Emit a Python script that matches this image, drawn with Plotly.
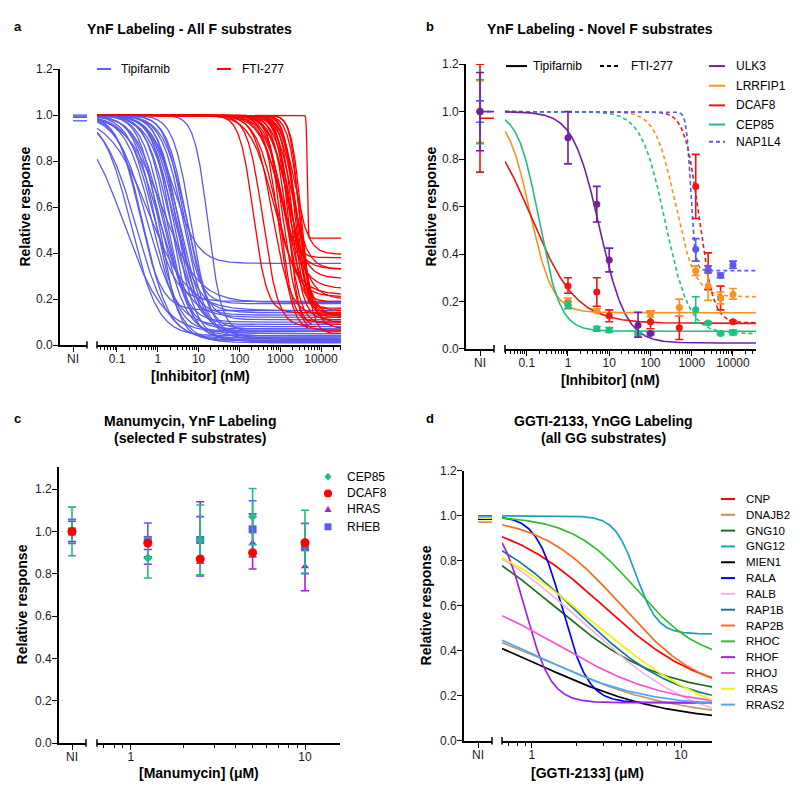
import numpy as np
import plotly.graph_objects as go

# the page body adds an 8 px margin: the figure is sized so that it ends at the window edge
OFF = 8
W, H = 800, 801
FW, FH = W - OFF, H - OFF
FONT = "Arial, 'Liberation Sans', Helvetica, sans-serif"

# ---------------- Panel a: fitted 4PL curves (bottom, IC50 nM, Hill; top = 1) ----------------
a_tip_ic50 = [0.15, 0.22, 0.3, 0.35, 0.45, 0.55, 0.7, 0.8, 0.9, 1.0, 1.1, 1.2, 1.4, 1.5, 1.7, 1.9,
              2.5, 2.2, 2.4, 2.6, 2.8, 3.0, 3.3, 3.6, 4.0, 4.4, 5.0, 5.5, 6.5, 0.6, 1.3, 17.0]
a_tip_hill = [0.9, 1.3, 1.1, 1.6, 1.4, 1.2, 1.5, 1.3, 1.6, 1.2, 1.8, 1.4, 1.6, 1.3, 1.7, 1.5,
              1.5, 1.8, 1.4, 1.6, 1.9, 1.5, 1.7, 1.4, 2.0, 1.6, 1.8, 1.5, 2.0, 0.9, 1.0, 2.6]
a_tip_bottom = [0.05, 0.04, 0.02, 0.15, 0.03, 0.08, 0.19, 0.01, 0.06, 0.12, 0.02, 0.04, 0.10, 0.015,
                0.07, 0.13, 0.355, 0.03, 0.14, 0.02, 0.09, 0.05, 0.06, 0.025, 0.18, 0.04, 0.11, 0.03,
                0.07, 0.15, 0.185, 0.06]
a_fti_ic50 = [220, 380, 650, 800, 900, 950, 1000, 1100, 1200, 1250, 1300, 1400, 1450, 1500, 1600,
              1700, 1800, 1900, 2000, 2100, 2200, 2300, 2500, 2700, 2900, 3100, 3400, 4600, 700, 2600]
a_fti_hill = [2.6, 2.3, 2.0, 1.7, 2.5, 1.8, 3.0, 1.6, 2.4, 2.0, 3.2, 1.7, 2.6, 2.0, 3.5,
              1.8, 2.8, 2.2, 3.0, 2.0, 3.6, 2.5, 3.0, 2.2, 4.0, 3.0, 3.5, 40.0, 1.5, 2.5]
a_fti_bottom = [0.14, 0.08, 0.13, 0.21, 0.06, 0.33, 0.10, 0.245, 0.07, 0.15, 0.38, 0.12, 0.09, 0.29,
                0.065, 0.20, 0.11, 0.33, 0.14, 0.08, 0.19, 0.395, 0.12, 0.07, 0.16, 0.10, 0.05, 0.465,
                0.22, 0.13]
a_fti_xmax = [31000, 8000, 31000, 31000, 5000, 31000, 31000, 31000, 6000, 31000, 31000, 31000, 31000,
              31000, 31000, 31000, 31000, 31000, 31000, 9000, 31000, 31000, 31000, 31000, 31000, 31000,
              31000, 31000, 31000, 31000]
a_ni_tip = [1.0, 0.995, 0.99, 0.975]

# ---------------- Panel b ----------------
b_genes = ["ULK3", "LRRFIP1", "DCAF8", "CEP85", "NAP1L4"]
b_colors = ["#7020A0", "#F7931E", "#F01414", "#1FBF7F", "#5A5AF0"]
# Tipifarnib fits (solid)
b_tip_genes = ["ULK3", "LRRFIP1", "DCAF8", "CEP85"]
b_tip_bottom = [0.025, 0.153, 0.108, 0.075]
b_tip_ic50 = [5.8, 0.12, 0.13, 0.2]
b_tip_hill = [1.35, 1.6, 0.8, 1.7]
# FTI-277 fits (dashed)
b_fti_genes = ["LRRFIP1", "DCAF8", "CEP85", "NAP1L4"]
b_fti_bottom = [0.22, 0.11, 0.065, 0.33]
b_fti_ic50 = [400, 1500, 230, 950]
b_fti_hill = [1.8, 2.5, 1.5, 8.0]
# measured points (nM)
ulk3_x = [1, 5, 10, 50, 100]
ulk3_y = [0.89, 0.61, 0.375, 0.10, 0.065]
ulk3_lo = [0.78, 0.535, 0.325, 0.05, 0.06]
ulk3_hi = [1.0, 0.685, 0.425, 0.155, 0.07]
lrrfip1_x = [1, 5, 100, 500, 1250, 2500, 5000, 10000]
lrrfip1_y = [0.20, 0.16, 0.148, 0.175, 0.33, 0.265, 0.215, 0.23]
lrrfip1_lo = [0.185, 0.155, 0.135, 0.14, 0.31, 0.205, 0.19, 0.21]
lrrfip1_hi = [0.215, 0.17, 0.16, 0.21, 0.35, 0.325, 0.24, 0.255]
dcaf8_x = [1, 5, 10, 100, 500, 1250, 2500, 5000, 10000]
dcaf8_y = [0.265, 0.24, 0.14, 0.115, 0.09, 0.685, 0.33, 0.215, 0.115]
dcaf8_lo = [0.235, 0.18, 0.115, 0.085, 0.04, 0.55, 0.25, 0.165, 0.11]
dcaf8_hi = [0.30, 0.30, 0.165, 0.16, 0.14, 0.82, 0.405, 0.265, 0.12]
cep85_x = [1, 5, 10, 50, 1250, 2500, 5000, 10000]
cep85_y = [0.185, 0.085, 0.08, 0.065, 0.165, 0.11, 0.065, 0.07]
cep85_lo = [0.17, 0.075, 0.07, 0.06, 0.11, 0.105, 0.06, 0.06]
cep85_hi = [0.2, 0.095, 0.09, 0.07, 0.22, 0.115, 0.07, 0.08]
nap1l4_x = [1250, 2500, 5000, 10000]
nap1l4_y = [0.42, 0.335, 0.31, 0.355]
nap1l4_lo = [0.37, 0.32, 0.30, 0.34]
nap1l4_hi = [0.465, 0.35, 0.32, 0.37]
b_ni_y = [1.0, 1.0, 1.0, 1.0, 1.0]
b_ni_lo = [0.835, 0.87, 0.745, 0.865, 0.955]
b_ni_hi = [1.165, 1.13, 1.2, 1.135, 1.045]
b_ni_line = {"DCAF8": 0.972, "NAP1L4": 1.0, "ULK3": 1.0}

# ---------------- Panel c ----------------
c_conc = [1.25, 2.5, 5, 10]
c_genes = ["CEP85", "DCAF8", "HRAS", "RHEB"]
c_colors = ["#1FBF7F", "#FF0000", "#A020E8", "#5A5AF0"]
cep85_c_y = [0.875, 0.96, 1.07, 0.952]
cep85_c_lo = [0.78, 0.795, 0.937, 0.804]
cep85_c_hi = [0.97, 1.125, 1.203, 1.10]
dcaf8_c_y = [0.945, 0.87, 0.90, 0.947]
hras_c_y = [0.88, 0.965, 0.945, 0.835]
hras_c_lo = [0.845, 0.79, 0.823, 0.72]
hras_c_hi = [0.915, 1.14, 1.083, 0.95]
rheb_c_y = [0.96, 0.96, 1.01, 0.925]
rheb_c_lo = [0.88, 0.85, 0.88, 0.80]
rheb_c_hi = [1.04, 1.07, 1.145, 1.038]
c_ni_y = [1.0, 1.0, 1.0, 1.0]
c_ni_lo = [0.885, 1.0, 0.952, 0.943]
c_ni_hi = [1.115, 1.0, 1.048, 1.057]

# ---------------- Panel d ----------------
d_genes = ["CNP", "DNAJB2", "GNG10", "GNG12", "MIEN1", "RALA", "RALB", "RAP1B", "RAP2B",
           "RHOC", "RHOF", "RHOJ", "RRAS", "RRAS2"]
d_colors = ["#FF0000", "#C8965A", "#1A6B1A", "#1FA2B8", "#000000", "#0000FF", "#F7B3E8",
            "#1B7896", "#FF6A1A", "#2EC02E", "#A020F0", "#F455D6", "#F2F200", "#4DA6FF"]
d_top = [1.0, 0.6, 1.0, 1.0, 0.6, 1.0, 1.0, 1.0, 1.0, 1.0, 1.0, 0.7, 1.0, 0.6]
d_bottom = [0.2, 0.1, 0.2, 0.475, 0.08, 0.17, 0.05, 0.15, 0.2, 0.35, 0.17, 0.15, 0.05, 0.15]
d_ic50 = [3.0, 1.3, 1.4, 5.0, 1.1, 1.6, 2.2, 2.0, 4.0, 5.0, 0.9, 1.5, 2.6, 1.1]
d_hill = [1.3, 1.0, 1.2, 6.0, 1.0, 5.0, 1.1, 1.3, 1.6, 2.0, 5.0, 1.2, 1.0, 1.2]
d_ni = [0.995, 0.972, 0.99, 1.0, 0.985, 0.998, 0.993, 0.996, 0.99, 0.995, 0.99, 0.994, 0.99, 0.997]


def four_pl(x, top, bottom, ic50, hill):
    return bottom + (top - bottom) / (1.0 + (x / ic50) ** hill)


def px(x):
    return (x - OFF) / FW


def py(y):
    return 1 - (y - OFF) / FH


fig = go.Figure()

# axis geometry (window pixels)
panels = {
    "a": dict(ni=(60, 87, 73), log=(97, 341), logr=(-1.49, 4.49), y=(344, 63), yr=(0, 1.2)),
    "b": dict(ni=(466, 494, 480), log=(505, 756), logr=(-1.527, 4.558), y=(348, 58), yr=(0, 1.2)),
    "c": dict(ni=(59, 86, 72), log=(97, 340), logr=(-0.195, 1.201), y=(749.3, 468), yr=(0, 1.305)),
    "d": dict(ni=(464, 492, 478), log=(502, 712), logr=(-0.201, 1.208), y=(747, 472), yr=(0, 1.2)),
}
ni_end = {k: (v["ni"][1] - v["ni"][2]) / (v["ni"][2] - v["ni"][0]) for k, v in panels.items()}
ax_ids = {"a": ("x", "x2", "y"), "b": ("x3", "x4", "y2"), "c": ("x5", "x6", "y3"), "d": ("x7", "x8", "y4")}

# ---- panel a traces
xa = np.logspace(-1.49, 4.49, 400)
ni_a, lg_a, ya = ax_ids["a"]
for ic, h, b in zip(a_tip_ic50, a_tip_hill, a_tip_bottom):
    fig.add_trace(go.Scatter(x=xa, y=four_pl(xa, 1.0, b, ic, h), mode="lines",
                             line=dict(color="#5B5BEF", width=1.3), xaxis=lg_a, yaxis=ya,
                             showlegend=False, hoverinfo="skip"))
for ic, h, b, xm in zip(a_fti_ic50, a_fti_hill, a_fti_bottom, a_fti_xmax):
    xs = xa[xa <= xm]
    fig.add_trace(go.Scatter(x=xs, y=four_pl(xs, 1.0, b, ic, h), mode="lines",
                             line=dict(color="#FF0000", width=1.3), xaxis=lg_a, yaxis=ya,
                             showlegend=False, hoverinfo="skip"))
for v in a_ni_tip:
    fig.add_trace(go.Scatter(x=[0, ni_end["a"]], y=[v, v], mode="lines",
                             line=dict(color="#5B5BEF", width=1.3), xaxis=ni_a, yaxis=ya,
                             showlegend=False, hoverinfo="skip"))

# ---- panel b traces
xb = np.logspace(-1.527, 4.558, 400)
ni_b, lg_b, yb = ax_ids["b"]
bcol = dict(zip(b_genes, b_colors))
for g, b, ic, h in zip(b_fti_genes, b_fti_bottom, b_fti_ic50, b_fti_hill):
    fig.add_trace(go.Scatter(x=xb, y=four_pl(xb, 1.0, b, ic, h), mode="lines",
                             line=dict(color=bcol[g], width=1.6, dash="4px,3px"), xaxis=lg_b, yaxis=yb,
                             showlegend=False, hoverinfo="skip"))
for g, b, ic, h in zip(b_tip_genes, b_tip_bottom, b_tip_ic50, b_tip_hill):
    fig.add_trace(go.Scatter(x=xb, y=four_pl(xb, 1.0, b, ic, h), mode="lines",
                             line=dict(color=bcol[g], width=1.6), xaxis=lg_b, yaxis=yb,
                             showlegend=False, hoverinfo="skip"))
for g, v in b_ni_line.items():
    fig.add_trace(go.Scatter(x=[0, ni_end["b"]], y=[v, v], mode="lines",
                             line=dict(color=bcol[g], width=1.6, dash="4px,3px" if g == "NAP1L4" else "solid"),
                             xaxis=ni_b, yaxis=yb, showlegend=False, hoverinfo="skip"))

b_points = {
    "DCAF8": (dcaf8_x, dcaf8_y, dcaf8_lo, dcaf8_hi),
    "LRRFIP1": (lrrfip1_x, lrrfip1_y, lrrfip1_lo, lrrfip1_hi),
    "CEP85": (cep85_x, cep85_y, cep85_lo, cep85_hi),
    "NAP1L4": (nap1l4_x, nap1l4_y, nap1l4_lo, nap1l4_hi),
    "ULK3": (ulk3_x, ulk3_y, ulk3_lo, ulk3_hi),
}
for g, (xs, ys, lo, hi) in b_points.items():
    ys = np.array(ys); lo = np.array(lo); hi = np.array(hi)
    fig.add_trace(go.Scatter(x=xs, y=ys, mode="markers", xaxis=lg_b, yaxis=yb, cliponaxis=False,
                             marker=dict(color=bcol[g], size=7),
                             error_y=dict(type="data", symmetric=False, array=hi - ys, arrayminus=ys - lo,
                                          color=bcol[g], thickness=1.6, width=4),
                             showlegend=False, hoverinfo="skip"))
ni_order = ["DCAF8", "LRRFIP1", "CEP85", "NAP1L4", "ULK3"]
for g in ni_order:
    i = b_genes.index(g)
    y0 = b_ni_y[i]
    fig.add_trace(go.Scatter(x=[0], y=[y0], mode="markers", xaxis=ni_b, yaxis=yb, cliponaxis=False,
                             marker=dict(color=bcol[g], size=7),
                             error_y=dict(type="data", symmetric=False, array=[b_ni_hi[i] - y0],
                                          arrayminus=[y0 - b_ni_lo[i]], color=bcol[g], thickness=1.6, width=4),
                             showlegend=False, hoverinfo="skip"))

# ---- panel c traces
ni_c, lg_c, yc = ax_ids["c"]
ccol = dict(zip(c_genes, c_colors))
c_sym = {"CEP85": "diamond", "DCAF8": "circle", "HRAS": "triangle-up", "RHEB": "square"}
c_size = {"CEP85": 7, "DCAF8": 9, "HRAS": 7, "RHEB": 8}
c_series = [
    ("RHEB", rheb_c_y, rheb_c_lo, rheb_c_hi),
    ("HRAS", hras_c_y, hras_c_lo, hras_c_hi),
    ("CEP85", cep85_c_y, cep85_c_lo, cep85_c_hi),
    ("DCAF8", dcaf8_c_y, dcaf8_c_y, dcaf8_c_y),
]
for g, ys, lo, hi in c_series:
    i = c_genes.index(g)
    ys = np.array(ys); lo = np.array(lo); hi = np.array(hi)
    err = dict(type="data", symmetric=False, array=hi - ys, arrayminus=ys - lo,
               color=ccol[g], thickness=1.6, width=4)
    fig.add_trace(go.Scatter(x=c_conc, y=ys, mode="markers", xaxis=lg_c, yaxis=yc, cliponaxis=False,
                             marker=dict(color=ccol[g], size=c_size[g], symbol=c_sym[g]), error_y=err,
                             showlegend=False, hoverinfo="skip"))
    fig.add_trace(go.Scatter(x=[0], y=[c_ni_y[i]], mode="markers", xaxis=ni_c, yaxis=yc, cliponaxis=False,
                             marker=dict(color=ccol[g], size=c_size[g], symbol=c_sym[g]),
                             error_y=dict(type="data", symmetric=False, array=[c_ni_hi[i] - c_ni_y[i]],
                                          arrayminus=[c_ni_y[i] - c_ni_lo[i]], color=ccol[g],
                                          thickness=1.6, width=4),
                             showlegend=False, hoverinfo="skip"))

# ---- panel d traces
xd = np.logspace(-0.201, 1.208, 300)
ni_d, lg_d, yd = ax_ids["d"]
for g, c, t, b, ic, h, nv in zip(d_genes, d_colors, d_top, d_bottom, d_ic50, d_hill, d_ni):
    fig.add_trace(go.Scatter(x=xd, y=four_pl(xd, t, b, ic, h), mode="lines",
                             line=dict(color=c, width=1.7), xaxis=lg_d, yaxis=yd,
                             showlegend=False, hoverinfo="skip"))
    fig.add_trace(go.Scatter(x=[0, ni_end["d"]], y=[nv, nv], mode="lines",
                             line=dict(color=c, width=1.7), xaxis=ni_d, yaxis=yd,
                             showlegend=False, hoverinfo="skip"))

# ---------------- axes ----------------
common = dict(showgrid=False, zeroline=False, showline=True, linecolor="black", linewidth=1.6,
              ticks="outside", ticklen=5, tickwidth=1.4, tickcolor="black",
              tickfont=dict(size=12, color="#1a1a1a", family=FONT))


def minor_vals(lo, hi):
    vals = []
    for d in range(int(np.floor(lo)) - 1, int(np.ceil(hi)) + 1):
        for m in range(2, 10):
            v = m * 10.0 ** d
            if lo <= np.log10(v) <= hi:
                vals.append(v)
    return vals


tick_sets = {
    "a": ([0.1, 1, 10, 100, 1000, 10000], ["0.1", "1", "10", "100", "1000", "10000"]),
    "b": ([0.1, 1, 10, 100, 1000, 10000], ["0.1", "1", "10", "100", "1000", "10000"]),
    "c": ([1, 10], ["1", "10"]),
    "d": ([1, 10], ["1", "10"]),
}
minor_hi = {"a": 4.49, "b": 4.558, "c": 1.0, "d": 1.0}
layout_axes = {}
for k, p in panels.items():
    nid, lid, yid = ax_ids[k]
    ni_lo, ni_hi, ni_c0 = p["ni"]
    nkey = "xaxis" + nid[1:]
    lkey = "xaxis" + lid[1:]
    ykey = "yaxis" + yid[1:]
    layout_axes[nkey] = dict(common, domain=[px(ni_lo), px(ni_hi)], range=[-1, ni_end[k]],
                             tickvals=[0], ticktext=["NI"], anchor=yid, ticklabelstandoff=-3)
    tv, tt = tick_sets[k]
    layout_axes[lkey] = dict(common, type="log", domain=[px(p["log"][0]), px(p["log"][1])],
                             range=list(p["logr"]), tickvals=tv, ticktext=tt, anchor=yid,
                             ticklabelstandoff=-3,
                             minor=dict(tickvals=minor_vals(p["logr"][0], minor_hi[k]), ticks="outside",
                                        ticklen=3, tickwidth=1, tickcolor="black", showgrid=False))
    layout_axes[ykey] = dict(common, domain=[py(p["y"][0]), py(p["y"][1])], range=list(p["yr"]),
                             tickvals=[0, 0.2, 0.4, 0.6, 0.8, 1.0, 1.2], tickformat=".1f", anchor=nid,
                             ticklabelstandoff=-2)

# ---------------- shapes (axis breaks + legend glyphs) ----------------
shapes = []
for k, p in panels.items():
    yb0 = p["y"][0]
    for xx in (p["ni"][1], p["log"][0]):
        shapes.append(dict(type="line", xref="paper", yref="paper", x0=px(xx), x1=px(xx),
                           y0=py(yb0 - 4), y1=py(yb0 + 3.5), line=dict(color="black", width=1.5)))

annotations = []


def text(x, y, s, size=12, bold=False, xanchor="left", angle=0, yanchor="middle"):
    annotations.append(dict(x=px(x), y=py(y), xref="paper", yref="paper", text=f"<b>{s}</b>" if bold else s,
                            showarrow=False, xanchor=xanchor, yanchor=yanchor, textangle=angle,
                            font=dict(size=size, color="black", family=FONT)))


def leg_line(x0, x1, y, color, dash="solid", width=2):
    shapes.append(dict(type="line", xref="paper", yref="paper", x0=px(x0), x1=px(x1), y0=py(y), y1=py(y),
                       line=dict(color=color, width=width, dash=dash)))


# panel a legend
leg_line(97, 111, 63, "#5B5BEF")
text(119, 63, "Tipifarnib")
leg_line(217, 231, 63, "#FF0000")
text(240, 63, "FTI-277")
# panel b legend
leg_line(506, 527, 60, "black")
text(531, 60, "Tipifarnib")
leg_line(600, 621, 60, "black", dash="4px,3px")
text(629, 60, "FTI-277")
b_leg_y = [60, 80, 100, 119.5, 137]
for g, yy in zip(b_genes, b_leg_y):
    leg_line(709, 725, yy, bcol[g], dash="4px,3px" if g == "NAP1L4" else "solid")
    text(734, yy, g)
# panel c legend
c_leg_y = [478, 495, 511, 529]
for g, yy in zip(c_genes, c_leg_y):
    cx = 328
    col = ccol[g]
    if g == "DCAF8":
        shapes.append(dict(type="circle", xref="paper", yref="paper", x0=px(cx - 4), x1=px(cx + 4),
                           y0=py(yy + 4), y1=py(yy - 4), fillcolor=col, line=dict(width=0)))
    elif g == "RHEB":
        shapes.append(dict(type="rect", xref="paper", yref="paper", x0=px(cx - 3.5), x1=px(cx + 3.5),
                           y0=py(yy + 3.5), y1=py(yy - 3.5), fillcolor=col, line=dict(width=0)))
    elif g == "HRAS":
        path = f"M {px(cx-3.5)} {py(yy+3)} L {px(cx+3.5)} {py(yy+3)} L {px(cx)} {py(yy-3.5)} Z"
        shapes.append(dict(type="path", xref="paper", yref="paper", path=path, fillcolor=col, line=dict(width=0)))
    else:
        path = (f"M {px(cx)} {py(yy-4)} L {px(cx+3.5)} {py(yy)} L {px(cx)} {py(yy+4)} "
                f"L {px(cx-3.5)} {py(yy)} Z")
        shapes.append(dict(type="path", xref="paper", yref="paper", path=path, fillcolor=col, line=dict(width=0)))
    text(345, yy, g)
# panel d legend
for i, (g, c) in enumerate(zip(d_genes, d_colors)):
    yy = 500.7 + i * 16.1
    leg_line(721, 735, yy, c)
    text(744, yy, g, size=11.5)

# ---------------- titles & labels ----------------
text(18, 20, "a", size=13, bold=True, xanchor="center")
text(430, 20, "b", size=13, bold=True, xanchor="center")
text(17, 419, "c", size=13, bold=True, xanchor="center")
text(430, 419, "d", size=13, bold=True, xanchor="center")
text(189, 22, "YnF Labeling - All F substrates", size=14, bold=True, xanchor="center")
text(600, 22, "YnF Labeling - Novel F substrates", size=14, bold=True, xanchor="center")
text(190, 421, "Manumycin, YnF Labeling", size=14, bold=True, xanchor="center")
text(190, 438.5, "(selected F substrates)", size=14, bold=True, xanchor="center")
text(603, 421, "GGTI-2133, YnGG Labeling", size=14, bold=True, xanchor="center")
text(603, 439, "(all GG substrates)", size=14, bold=True, xanchor="center")
text(25, 203, "Relative response", size=14, bold=True, xanchor="center", angle=-90)
text(431, 203, "Relative response", size=14, bold=True, xanchor="center", angle=-90)
text(22, 608, "Relative response", size=14, bold=True, xanchor="center", angle=-90)
text(426, 609, "Relative response", size=14, bold=True, xanchor="center", angle=-90)
text(200, 375, "[Inhibitor] (nM)", size=14, bold=True, xanchor="center")
text(610, 380, "[Inhibitor] (nM)", size=14, bold=True, xanchor="center")
text(199, 780, "[Manumycin] (\u03bcM)", size=14, bold=True, xanchor="center")
text(587, 780, "[GGTI-2133] (\u03bcM)", size=14, bold=True, xanchor="center")

fig.update_layout(width=FW, height=FH, autosize=False, margin=dict(l=0, r=0, t=0, b=0),
                  paper_bgcolor="white", plot_bgcolor="white", showlegend=False,
                  font=dict(family=FONT, color="black"), shapes=shapes, annotations=annotations,
                  **layout_axes)

fig.write_html("out.html")
